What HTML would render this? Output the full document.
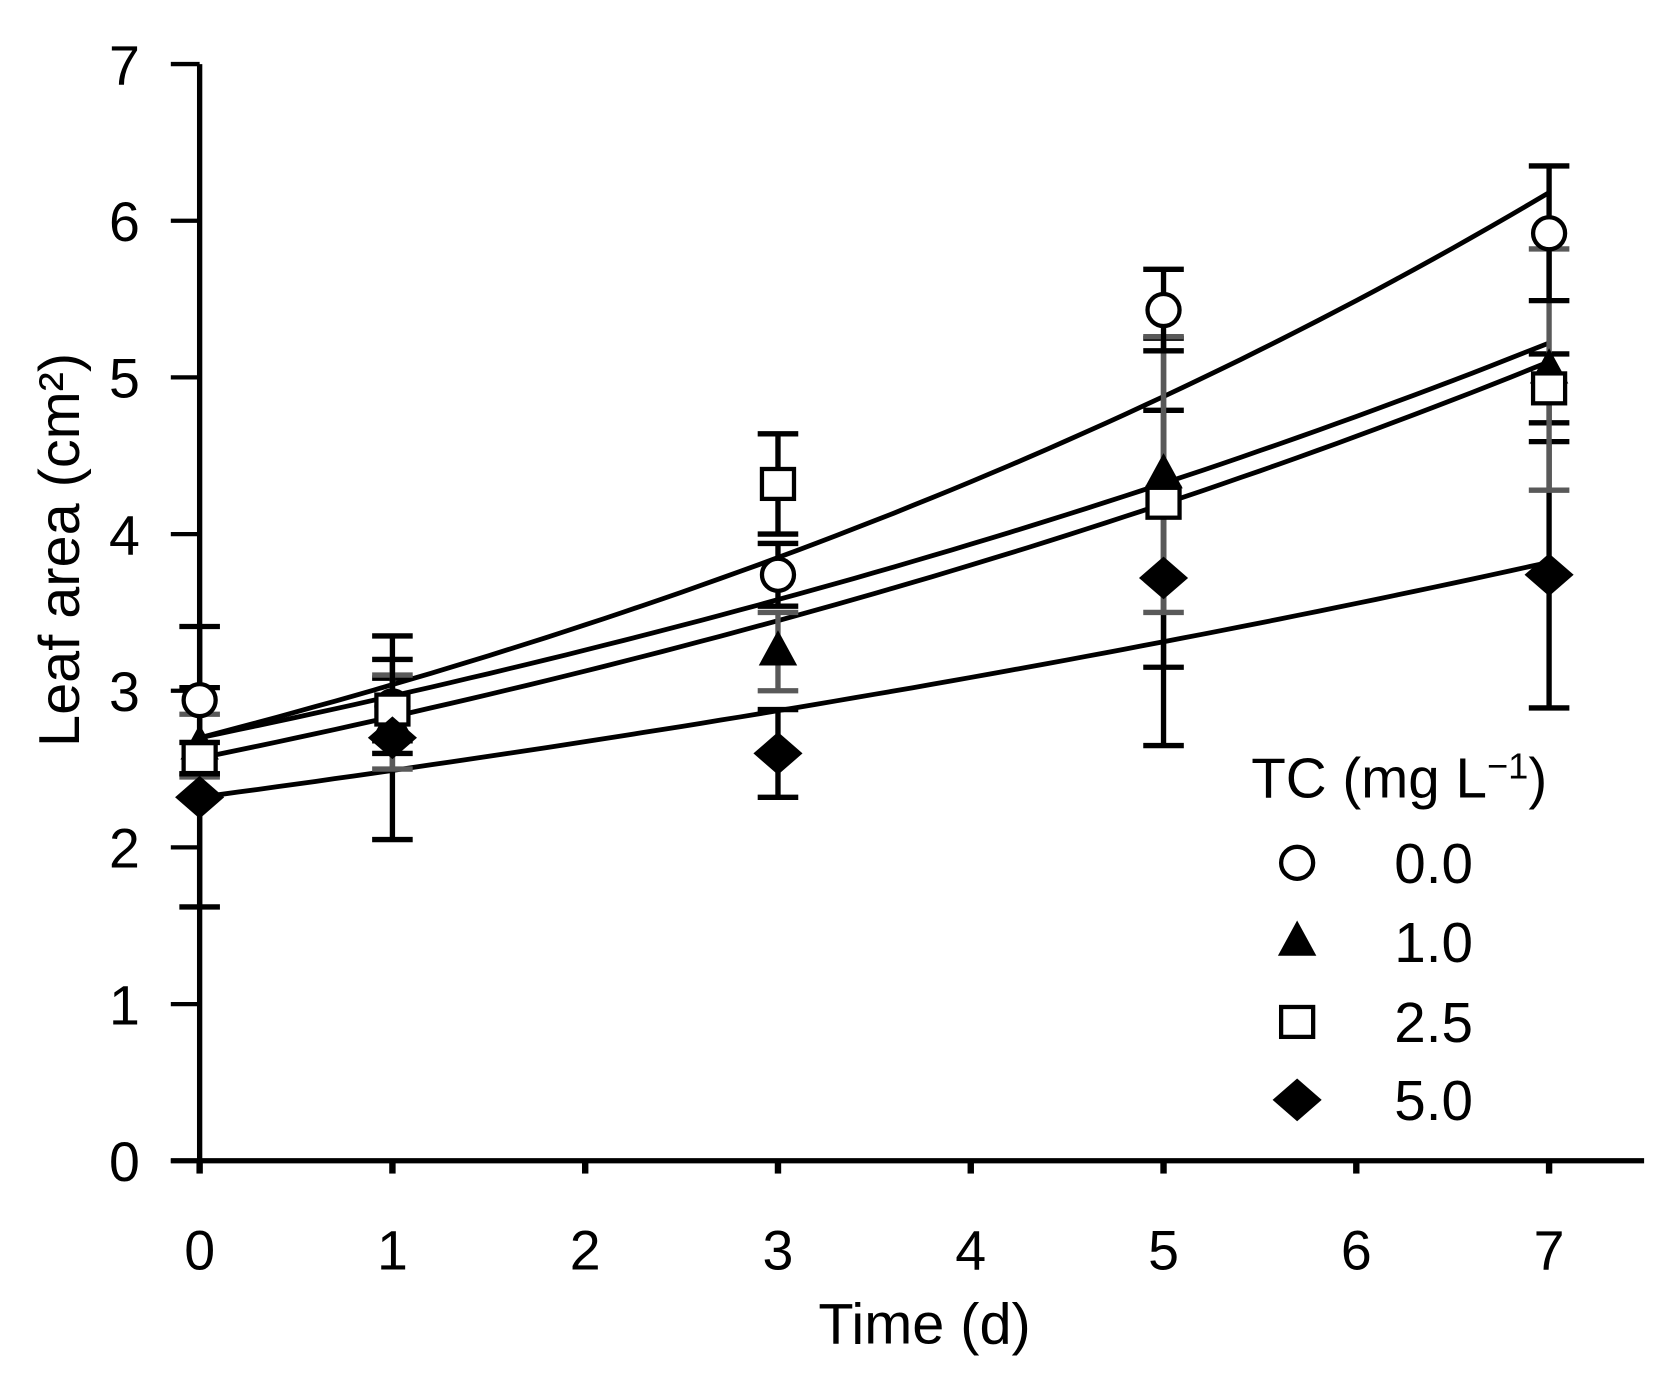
<!DOCTYPE html>
<html><head><meta charset="utf-8"><style>
html,body{margin:0;padding:0;background:#fff;}
svg{display:block;font-family:"Liberation Sans",sans-serif;}
</style></head><body>
<svg id="chart" width="1674" height="1385" viewBox="0 0 1568 1297" preserveAspectRatio="none" xmlns="http://www.w3.org/2000/svg">
<g id="axes"></g>
<g id="fits"></g>
<g id="errs"></g>
<g id="marks"></g>
<text transform="translate(74,515) rotate(-90)" text-anchor="middle" font-size="54">Leaf area (cm²)</text>
<text x="866" y="1258" text-anchor="middle" font-size="54">Time (d)</text>
<g id="legend">
<text x="1172" y="747" font-size="53">TC (mg L<tspan font-size="34" dy="-18">−1</tspan><tspan dy="18">)</tspan></text>
</g>
</svg>
<script>
const days = [0, 1, 3, 5, 7];
const seriesNames = ["0.0", "1.0", "2.5", "5.0"];
const valsC = [2.94, 2.9, 3.74, 5.43, 5.92];
const valsT = [2.65, 2.8, 3.25, 4.38, 5.05];
const valsS = [2.57, 2.88, 4.32, 4.2, 4.93];
const valsD = [2.32, 2.7, 2.6, 3.72, 3.74];
const errC = [0.47, 0.3, 0.2, 0.26, 0.43];
const errT = [0.2, 0.3, 0.25, 0.88, 0.77];
const errS = [0.1, 0.2, 0.32, 1.05, 0.22];
const errD = [0.7, 0.65, 0.28, 1.07, 0.85];
const fitStart = [2.7, 2.7, 2.57, 2.32];
const fitEnd = [6.18, 5.22, 5.1, 3.82];
const xTicks = [0, 1, 2, 3, 4, 5, 6, 7];
const yTicks = [0, 1, 2, 3, 4, 5, 6, 7];

const NS = "http://www.w3.org/2000/svg";
const X = d => 187 + d * (1451 - 187) / 7;
const Y = v => 1087 - v * (1087 - 60) / 7;
function mk(parent, tag, attrs) {
  const e = document.createElementNS(NS, tag);
  for (const k in attrs) e.setAttribute(k, attrs[k]);
  parent.appendChild(e); return e;
}
const axes = document.getElementById('axes');
let e = mk(axes, 'line', {x1: X(0), y1: Y(0), x2: X(0), y2: Y(7), stroke: '#000', 'stroke-width': 5});


e = mk(axes, 'line', {x1: 160, y1: Y(0), x2: 1540, y2: Y(0), stroke: '#000', 'stroke-width': 5});


yTicks.forEach(v => {
  mk(axes, 'line', {x1: 160, y1: Y(v), x2: X(0), y2: Y(v), stroke: '#000', 'stroke-width': 4});
  const t = mk(axes, 'text', {x: 131, y: Y(v) + 19, 'text-anchor': 'end', 'font-size': 52});
  t.textContent = v;
  
  
});
xTicks.forEach(d => {
  mk(axes, 'line', {x1: X(d), y1: Y(0), x2: X(d), y2: Y(0) + 12, stroke: '#000', 'stroke-width': 6});
  const t = mk(axes, 'text', {x: X(d), y: 1189, 'text-anchor': 'middle', 'font-size': 52});
  t.textContent = d;
  
  
});
// fits
const fits = document.getElementById('fits');
fitStart.forEach((a, i) => {
  const b = Math.log(fitEnd[i] / a) / 7;
  let p = '';
  for (let k = 0; k <= 70; k++) { const d = k / 10; p += (k ? 'L' : 'M') + X(d).toFixed(1) + ',' + Y(a * Math.exp(b * d)).toFixed(1); }
  const l = mk(fits, 'path', {d: p, fill: 'none', stroke: '#000', 'stroke-width': 4.5});
  
  
});
// error bars
const errs = document.getElementById('errs');
const allVals = [valsC, valsT, valsS, valsD];
const allErr = [errC, errT, errS, errD];
const errCol = ['#000', '#595959', '#000', '#000'];
[3, 2, 1, 0].forEach(i => {
  days.forEach((d, j) => {
    const v = allVals[i][j], er = allErr[i][j], x = X(d);
    const g = mk(errs, 'g', {stroke: errCol[i], 'stroke-width': 5});
    
    
    mk(g, 'line', {x1: x, y1: Y(v - er), x2: x, y2: Y(v + er)});
    mk(g, 'line', {x1: x - 19, y1: Y(v - er), x2: x + 19, y2: Y(v - er)});
    mk(g, 'line', {x1: x - 19, y1: Y(v + er), x2: x + 19, y2: Y(v + er)});
  });
});
// markers
function marker(parent, type, x, y) {
  if (type === 0) return mk(parent, 'circle', {cx: x, cy: y, r: 15, fill: '#fff', stroke: '#000', 'stroke-width': 4});
  if (type === 1) return mk(parent, 'polygon', {points: `${x},${y-20} ${x+18},${y+13} ${x-18},${y+13}`, fill: '#000'});
  if (type === 2) return mk(parent, 'rect', {x: x - 15, y: y - 14, width: 30, height: 28, fill: '#fff', stroke: '#000', 'stroke-width': 4});
  return mk(parent, 'polygon', {points: `${x},${y-20} ${x+23},${y} ${x},${y+20} ${x-23},${y}`, fill: '#000'});
}
const marks = document.getElementById('marks');
[0, 1, 2, 3].forEach(i => {
  days.forEach((d, j) => {
    const m = marker(marks, i, X(d), Y(allVals[i][j]));
    
    
  });
});
// legend
const leg = document.getElementById('legend');
const legY = [808, 882, 957, 1030];
seriesNames.forEach((n, i) => {
  const g = mk(leg, 'g', {});
  
  
  marker(g, i, 1215, legY[i]);
  const t = mk(g, 'text', {x: 1306, y: legY[i] + 19, 'font-size': 53});
  t.textContent = n;
});
</script>
</body></html>
